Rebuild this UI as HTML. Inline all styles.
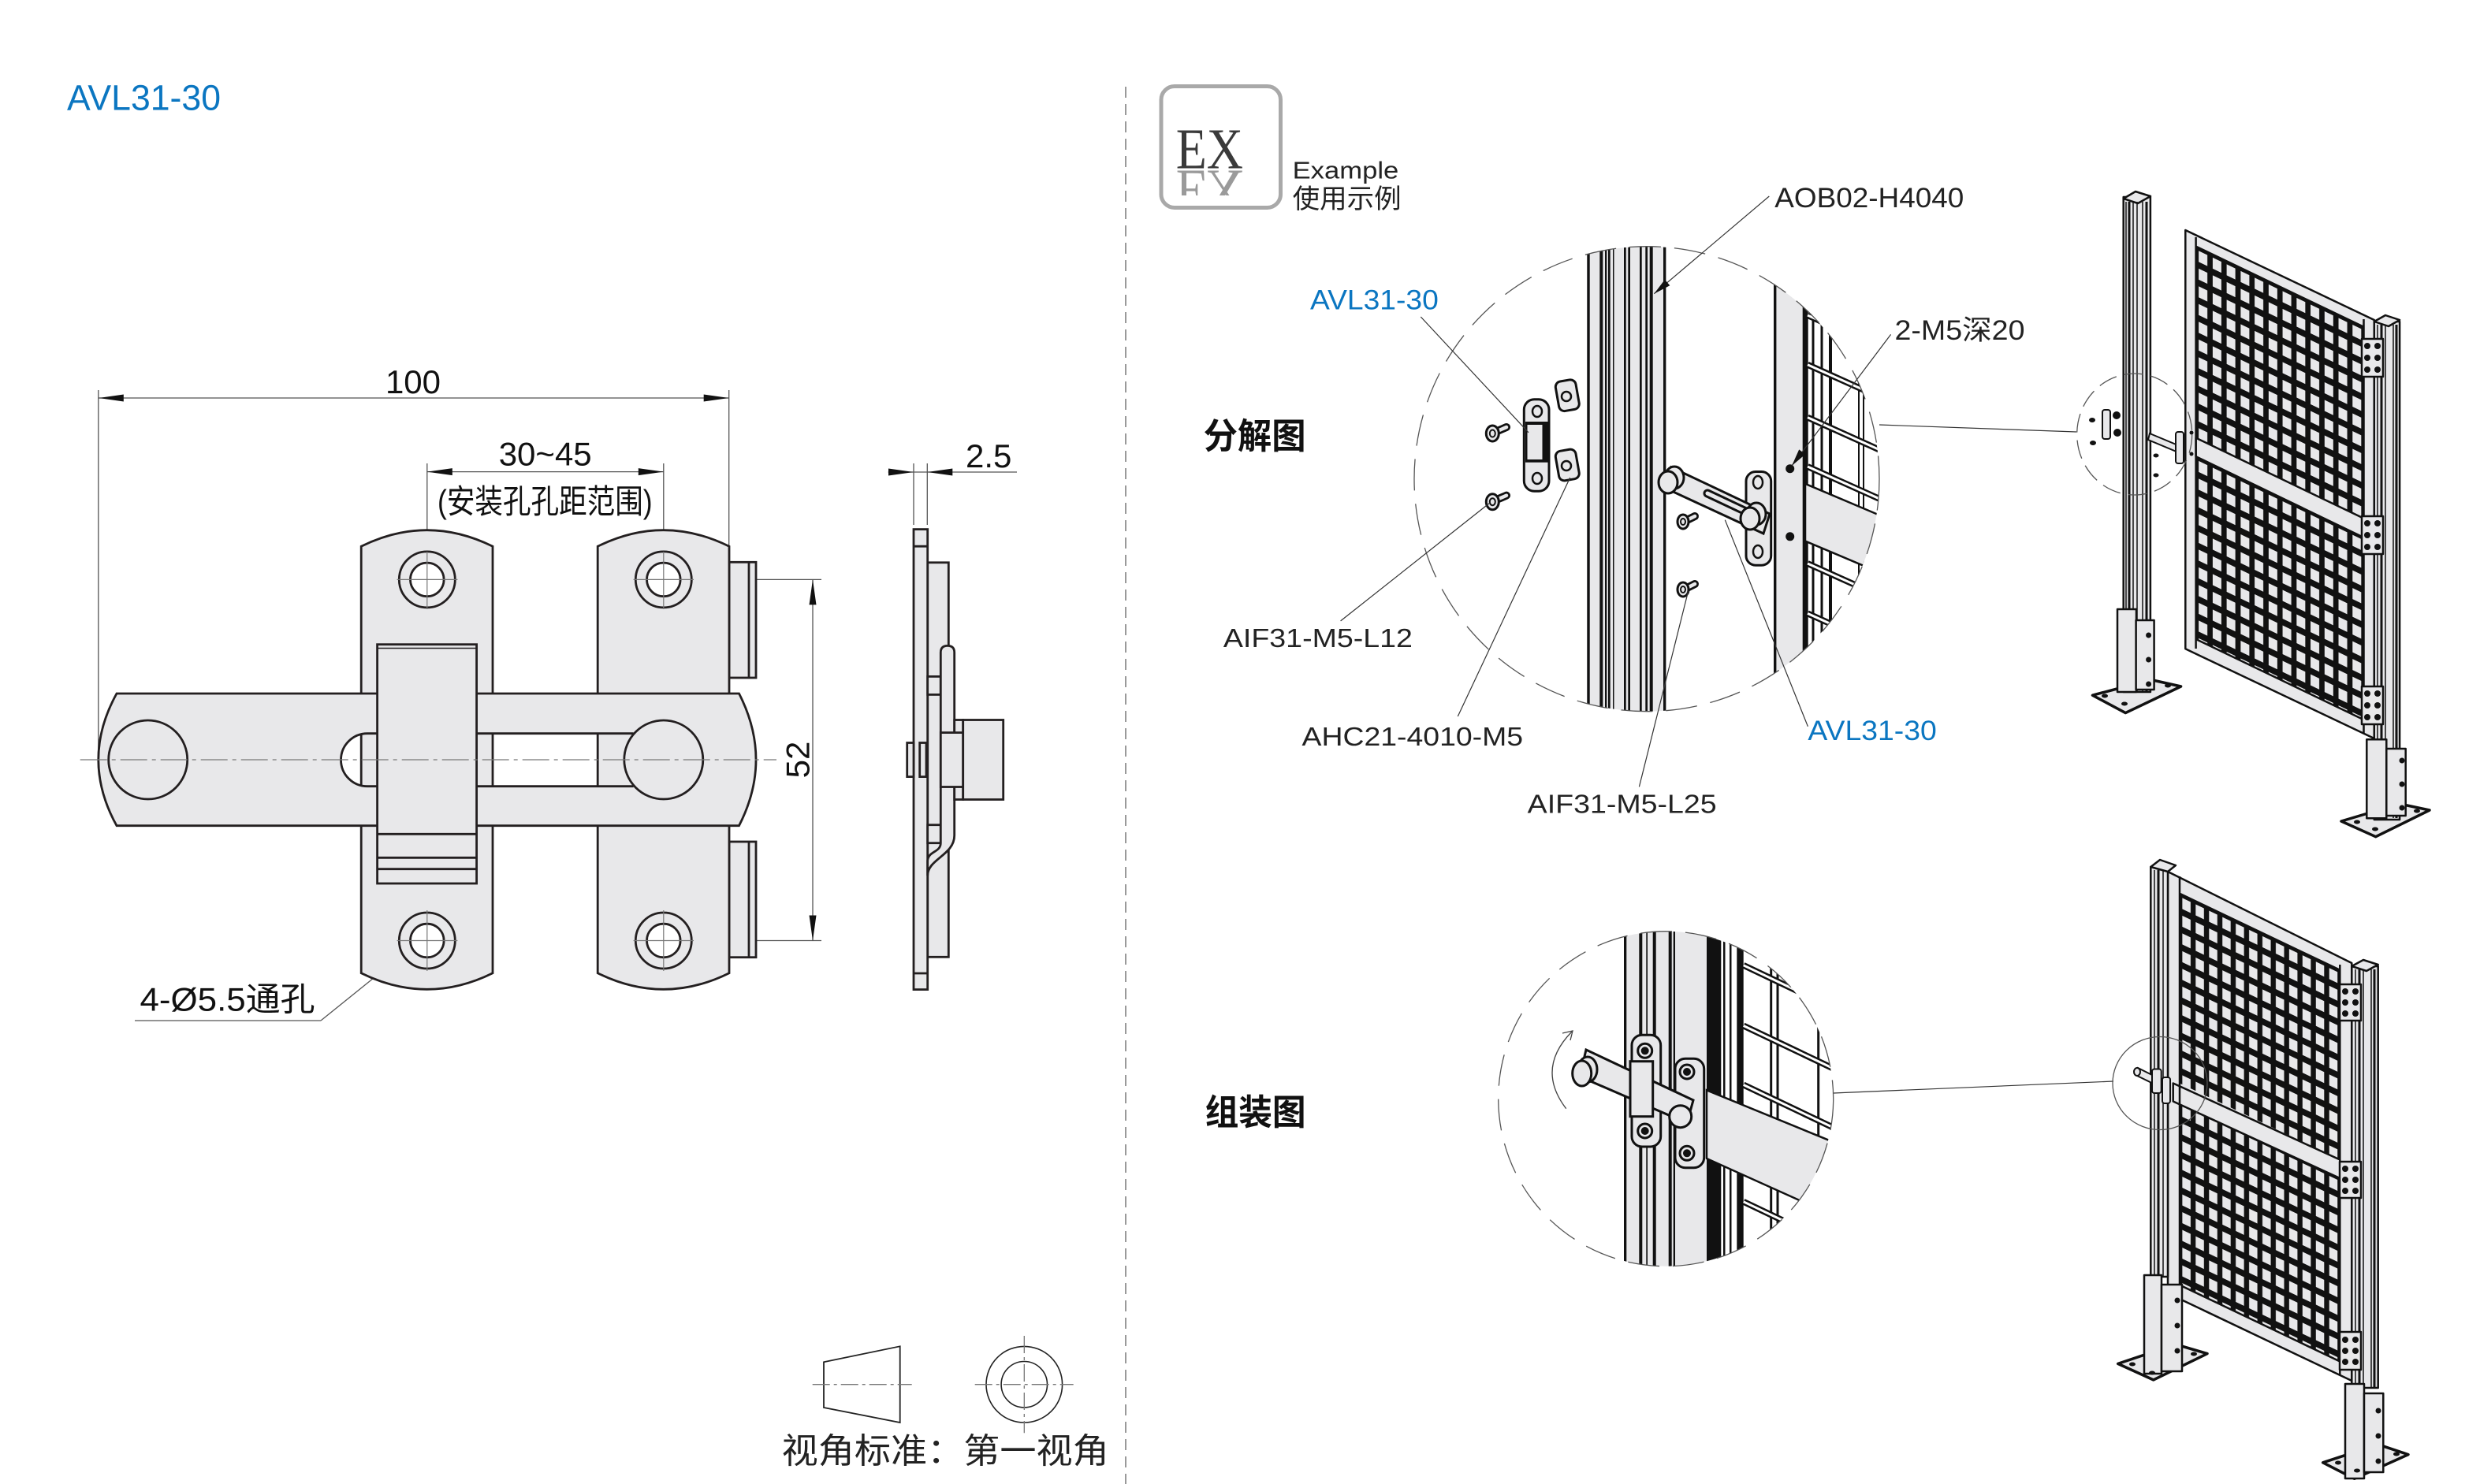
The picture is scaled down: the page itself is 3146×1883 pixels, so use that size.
<!DOCTYPE html>
<html><head><meta charset="utf-8">
<style>
html,body{margin:0;padding:0;background:#fff;}
svg{display:block;}
text{font-family:"Liberation Sans","Noto Sans CJK SC",sans-serif;}
</style></head><body>
<svg width="3146" height="1883" viewBox="0 0 3146 1883" xmlns="http://www.w3.org/2000/svg">
<defs>
<clipPath id="c1"><circle cx="2089" cy="607.7" r="295"/></clipPath>
<clipPath id="c2"><circle cx="2113.2" cy="1394.2" r="212.5"/></clipPath>
<clipPath id="refl"><rect x="1480" y="216" width="110" height="32"/></clipPath>
<linearGradient id="rg" x1="0" y1="216" x2="0" y2="248" gradientUnits="userSpaceOnUse">
<stop offset="0" stop-color="#9a9a9a"/><stop offset="1" stop-color="#ffffff"/></linearGradient>
<pattern id="mesh" width="1" height="22.5" patternUnits="userSpaceOnUse">
<rect width="1" height="22.5" fill="#111"/>
<rect x="0.2" y="4" width="0.62" height="14" fill="#e8e8ea"/>
</pattern>
</defs>

<!-- ============ LEFT: technical drawing ============ -->
<text x="85" y="139.3" font-size="45" fill="#0b76c1" textLength="195" lengthAdjust="spacingAndGlyphs">AVL31-30</text>

<!-- divider -->
<line x1="1428" y1="110" x2="1428" y2="1883" stroke="#9a9a9a" stroke-width="2" stroke-dasharray="14 8"/>

<!-- dimension / extension thin lines -->
<g stroke="#555" stroke-width="1.3" fill="none">
 <line x1="124.8" y1="495" x2="124.8" y2="958"/>
 <line x1="924.7" y1="495" x2="924.7" y2="693"/>
 <line x1="124.8" y1="505" x2="924.7" y2="505"/>
 <line x1="541.8" y1="588" x2="541.8" y2="700"/>
 <line x1="841.8" y1="588" x2="841.8" y2="700"/>
 <line x1="541.8" y1="598.6" x2="841.8" y2="598.6"/>
 <line x1="1031" y1="735.4" x2="1031" y2="1193.5"/>
 <line x1="880" y1="735.4" x2="1042" y2="735.4"/>
 <line x1="880" y1="1193.5" x2="1042" y2="1193.5"/>
 <line x1="1159" y1="588" x2="1159" y2="666"/>
 <line x1="1176.3" y1="588" x2="1176.3" y2="666"/>
 <line x1="1126.7" y1="599" x2="1290" y2="599"/>
 <line x1="171" y1="1295" x2="407" y2="1295"/>
 <line x1="407" y1="1295" x2="500" y2="1220"/>
</g>
<g fill="#111">
 <polygon points="124.8,505 156.8,500.5 156.8,509.5"/>
 <polygon points="924.7,505 892.7,500.5 892.7,509.5"/>
 <polygon points="541.8,598.6 573.8,594.1 573.8,603.1"/>
 <polygon points="841.8,598.6 809.8,594.1 809.8,603.1"/>
 <polygon points="1031,735.4 1026.5,767.4 1035.5,767.4"/>
 <polygon points="1031,1193.5 1026.5,1161.5 1035.5,1161.5"/>
 <polygon points="1159,599 1127,594.5 1127,603.5"/>
 <polygon points="1176.3,599 1208.3,594.5 1208.3,603.5"/>
 <polygon points="517.8,1206.3 500.3,1226 494.7,1219"/>
</g>
<g font-size="42" fill="#111">
 <text x="524" y="499" text-anchor="middle">100</text>
 <text x="691.7" y="590.3" text-anchor="middle">30~45</text>
 <text x="555" y="651" font-size="42" textLength="272.6" lengthAdjust="spacingAndGlyphs">(安装孔孔距范围)</text>
 <text x="1225" y="593">2.5</text>
 <text transform="translate(1026.5,964) rotate(-90)" text-anchor="middle">52</text>
 <text x="177.5" y="1282.5" textLength="222" lengthAdjust="spacingAndGlyphs">4-Ø5.5通孔</text>
</g>

<!-- front view -->
<g stroke="#231f20" stroke-width="2.8" fill="#e8e8ea">
 <rect x="925" y="713.3" width="34" height="146.7"/>
 <line x1="950" y1="713.3" x2="950" y2="860"/>
 <rect x="925" y="1068" width="34" height="146.7"/>
 <line x1="950" y1="1068" x2="950" y2="1214.7"/>
 <path d="M458.2,1234.7 V693.3 Q541.6,652.1 625,693.3 V1234.7 Q541.6,1275.9 458.2,1234.7 Z"/>
 <path d="M758.2,1234.7 V693.3 Q841.6,652.1 925,693.3 V1234.7 Q841.6,1275.9 758.2,1234.7 Z"/>
 <path d="M148,880 H937.5 Q980.5,964 937.5,1047.7 H148 Q101.6,964 148,880 Z"/>
 <path d="M466,930.7 A33.5,33.5 0 0 0 466,997.7 Z" fill="#fff" stroke="none"/>
 <rect x="458.2" y="930.7" width="21" height="67" stroke="none"/>
 <rect x="625" y="930.7" width="133.2" height="67" fill="#fff" stroke="none"/>
 <path d="M466,930.7 A33.5,33.5 0 0 0 466,997.7" fill="none"/>
 <path d="M466,930.7 H803.6 M466,997.7 H803.6 M458.2,930.7 V997.7 M625,930.7 V997.7 M758.2,930.7 V997.7" fill="none"/>
 <circle cx="187.7" cy="964" r="50"/>
 <circle cx="841.8" cy="964" r="50"/>
 <rect x="478.6" y="817.7" width="126" height="303.3"/>
 <path d="M478.6,1058.3 H604.6 M478.6,1088.3 H604.6 M478.6,1102.7 H604.6" fill="none"/>
 <line x1="478.6" y1="822.5" x2="604.6" y2="822.5" stroke-width="1.5"/>
 <circle cx="541.8" cy="735.4" r="35.5"/><circle cx="541.8" cy="735.4" r="21.3" fill="#fff"/>
 <circle cx="841.8" cy="735.4" r="35.5"/><circle cx="841.8" cy="735.4" r="21.3" fill="#fff"/>
 <circle cx="541.8" cy="1193.5" r="35.5"/><circle cx="541.8" cy="1193.5" r="21.3" fill="#fff"/>
 <circle cx="841.8" cy="1193.5" r="35.5"/><circle cx="841.8" cy="1193.5" r="21.3" fill="#fff"/>
</g>
<!-- center lines -->
<g stroke="#777" stroke-width="1.2" fill="none">
 <line x1="101.7" y1="964" x2="985" y2="964" stroke-dasharray="34 6 5 6"/>
 <path d="M503.6,735.4 H580.4 M541.8,700 V773 M803.6,735.4 H880 M841.8,700 V773 M503.6,1193.5 H580.4 M541.8,1155 V1232 M803.6,1193.5 H880 M841.8,1155 V1232"/>
</g>

<!-- side view -->
<g stroke="#231f20" stroke-width="2.8" fill="#e8e8ea">
 <rect x="1176.7" y="713.8" width="26.6" height="500.5"/>
 <rect x="1159" y="671.6" width="17.7" height="584"/>
 <line x1="1159" y1="693.2" x2="1176.7" y2="693.2"/>
 <line x1="1159" y1="1235" x2="1176.7" y2="1235"/>
 <rect x="1150.7" y="942.5" width="8.3" height="43.1"/>
 <rect x="1166.7" y="942.5" width="8.3" height="43.1"/>
 <rect x="1176.7" y="858.4" width="16.6" height="23"/>
 <rect x="1176.7" y="1046.7" width="16.6" height="23"/>
 <path d="M1193.3,1069.6 V828 Q1193.3,819.4 1202,819.4 Q1210.7,819.4 1210.7,828 V1060 C1210.7,1085 1176.7,1090 1176.7,1111 V1092.6 C1176.7,1080 1193.3,1082 1193.3,1069.6 Z"/>
 <rect x="1210.7" y="913.5" width="11" height="101"/>
 <rect x="1193.3" y="929.6" width="28.4" height="68.9"/>
 <rect x="1221.7" y="913.5" width="51" height="101"/>
</g>

<!-- view standard symbol -->
<polygon points="1045,1728.3 1141.7,1708.3 1141.7,1805 1045,1786" fill="none" stroke="#222" stroke-width="1.8"/>
<line x1="1030.7" y1="1756.7" x2="1156.7" y2="1756.7" stroke="#777" stroke-width="1.3" stroke-dasharray="22 5 4 5"/>
<circle cx="1299.3" cy="1756.7" r="48.3" fill="none" stroke="#222" stroke-width="1.6"/>
<circle cx="1299.3" cy="1756.7" r="29.2" fill="none" stroke="#222" stroke-width="1.6"/>
<line x1="1236.7" y1="1756.7" x2="1361.7" y2="1756.7" stroke="#777" stroke-width="1.3" stroke-dasharray="22 5 4 5"/>
<line x1="1299.3" y1="1695" x2="1299.3" y2="1818.3" stroke="#777" stroke-width="1.3" stroke-dasharray="22 5 4 5"/>
<text x="991.7" y="1856" font-size="44" fill="#222" textLength="415" lengthAdjust="spacingAndGlyphs">视角标准：第一视角</text>

<!-- ============ RIGHT: example ============ -->
<rect x="1473" y="109.5" width="151.5" height="154" rx="17" fill="#fff" stroke="#a9a9a9" stroke-width="5"/>
<text x="1491.7" y="213.3" font-size="73" fill="#3a3a3a" style="font-family:'Liberation Serif',serif" textLength="85.3" lengthAdjust="spacingAndGlyphs">EX</text>
<g clip-path="url(#refl)"><text x="1491.7" y="213.3" transform="translate(0,430) scale(1,-1)" font-size="73" fill="url(#rg)" style="font-family:'Liberation Serif',serif" textLength="85.3" lengthAdjust="spacingAndGlyphs">EX</text></g>
<text x="1639.6" y="226.7" font-size="31" fill="#222" textLength="134.7" lengthAdjust="spacingAndGlyphs">Example</text>
<text x="1639.6" y="264" font-size="34" fill="#222" textLength="138" lengthAdjust="spacingAndGlyphs">使用示例</text>

<text x="1526.6" y="569" font-size="45" font-weight="bold" fill="#111" textLength="130" lengthAdjust="spacingAndGlyphs">分解图</text>
<text x="1528.6" y="1427" font-size="45" font-weight="bold" fill="#111" textLength="128" lengthAdjust="spacingAndGlyphs">组装图</text>

<g font-size="35" fill="#222">
 <text x="2251.3" y="263" textLength="240" lengthAdjust="spacingAndGlyphs">AOB02-H4040</text>
 <text x="1662" y="392.5" fill="#0b76c1" textLength="162.8" lengthAdjust="spacingAndGlyphs">AVL31-30</text>
 <text x="2403.5" y="430.8" textLength="165" lengthAdjust="spacingAndGlyphs">2-M5深20</text>
 <text x="1551.9" y="821.1" font-size="33" textLength="240" lengthAdjust="spacingAndGlyphs">AIF31-M5-L12</text>
 <text x="1651.5" y="946" font-size="33" textLength="280.6" lengthAdjust="spacingAndGlyphs">AHC21-4010-M5</text>
 <text x="1937.7" y="1031.5" font-size="33" textLength="240" lengthAdjust="spacingAndGlyphs">AIF31-M5-L25</text>
 <text x="2293.4" y="939" fill="#0b76c1" textLength="163.4" lengthAdjust="spacingAndGlyphs">AVL31-30</text>
</g>

<!-- exploded circle -->
<g clip-path="url(#c1)">
 <rect x="2013" y="300" width="101" height="620" fill="#e8e8ea"/>
 <g fill="#111">
  <rect x="2013.3" y="300" width="3.4" height="620"/>
  <rect x="2029.3" y="300" width="4" height="620"/>
  <rect x="2036" y="300" width="2.3" height="620"/>
  <rect x="2040" y="300" width="2.7" height="620"/>
  <rect x="2046" y="300" width="1.5" height="620"/>
  <rect x="2060" y="300" width="2.7" height="620"/>
  <rect x="2065.3" y="300" width="2.7" height="620"/>
  <rect x="2080" y="300" width="2.7" height="620"/>
  <rect x="2087.3" y="300" width="2.7" height="620"/>
  <rect x="2092.7" y="300" width="4" height="620"/>
  <rect x="2110" y="300" width="3.3" height="620"/>
 </g>
 <rect x="2251" y="300" width="36" height="620" fill="#e8e8ea"/>
 <rect x="2250" y="300" width="3.4" height="620" fill="#111"/>
 <rect x="2286.7" y="300" width="7" height="620" fill="#111"/>
 <g stroke="#111" fill="none">
  <path d="M2300,300 V920 M2311,300 V920" stroke-width="3"/>
  <path d="M2322,300 V920" stroke-width="4"/>
  <path d="M2358,300 V920 M2364,300 V920" stroke-width="2"/>
 </g>
 <g stroke-linecap="butt">
  <path d="M2293,400 L2400,448 M2293,462.7 L2400,510.9 M2293,529.6 L2400,577.8 M2293,592 L2400,640 M2293,715 L2400,763 M2293,778.4 L2400,826.6 M2293,842 L2400,890" stroke="#111" stroke-width="8"/>
  <path d="M2293,400 L2400,448 M2293,462.7 L2400,510.9 M2293,529.6 L2400,577.8 M2293,592 L2400,640 M2293,715 L2400,763 M2293,778.4 L2400,826.6 M2293,842 L2400,890" stroke="#fff" stroke-width="3"/>
 </g>
 <polygon points="2290,613.8 2400,660.4 2400,733.1 2290,686.5" fill="#e8e8ea" stroke="#111" stroke-width="2.5"/>
</g>
<circle cx="2089" cy="607.7" r="295" fill="none" stroke="#555" stroke-width="1.3" stroke-dasharray="40 17"/>

<!-- exploded parts -->
<g stroke="#111" stroke-width="3" fill="#e8e8ea">
 <rect x="1933.3" y="506.7" width="31.7" height="116.6" rx="13"/>
 <rect x="1935" y="535" width="30" height="51.7" fill="#111" stroke="none"/>
 <rect x="1937.5" y="539" width="19" height="44" stroke="none"/>
 <ellipse cx="1950" cy="522" rx="6" ry="7" fill="none" stroke-width="2.5"/>
 <ellipse cx="1950" cy="607" rx="6" ry="7" fill="none" stroke-width="2.5"/>
 <rect x="1975.3" y="482.7" width="26" height="38" rx="7" transform="rotate(-10 1988.3 501.7)"/>
 <circle cx="1987" cy="503" r="6" fill="none" stroke-width="2.5"/>
 <rect x="1975.3" y="571" width="26" height="38" rx="7" transform="rotate(-10 1988.3 590)"/>
 <circle cx="1987" cy="591" r="6" fill="none" stroke-width="2.5"/>
 <line x1="1897" y1="548" x2="1911" y2="542" stroke-width="10" stroke-linecap="round"/>
 <line x1="1897" y1="548" x2="1911" y2="542" stroke="#e8e8ea" stroke-width="4.5" stroke-linecap="round"/>
 <ellipse cx="1893.3" cy="550" rx="8" ry="10"/><ellipse cx="1893.3" cy="550" rx="3.5" ry="4.5" fill="none" stroke-width="2"/>
 <line x1="1897" y1="634.7" x2="1911" y2="628.7" stroke-width="10" stroke-linecap="round"/>
 <line x1="1897" y1="634.7" x2="1911" y2="628.7" stroke="#e8e8ea" stroke-width="4.5" stroke-linecap="round"/>
 <ellipse cx="1893.3" cy="636.7" rx="8" ry="10"/><ellipse cx="1893.3" cy="636.7" rx="3.5" ry="4.5" fill="none" stroke-width="2"/>
 <line x1="2140" y1="660" x2="2150" y2="655" stroke-width="10" stroke-linecap="round"/>
 <line x1="2140" y1="660" x2="2150" y2="655" stroke="#e8e8ea" stroke-width="4.5" stroke-linecap="round"/>
 <ellipse cx="2135" cy="662" rx="7" ry="9"/><ellipse cx="2135" cy="662" rx="3" ry="4" fill="none" stroke-width="2"/>
 <line x1="2140" y1="746" x2="2150" y2="741" stroke-width="10" stroke-linecap="round"/>
 <line x1="2140" y1="746" x2="2150" y2="741" stroke="#e8e8ea" stroke-width="4.5" stroke-linecap="round"/>
 <ellipse cx="2135" cy="748" rx="7" ry="9"/><ellipse cx="2135" cy="748" rx="3" ry="4" fill="none" stroke-width="2"/>
 <rect x="2215" y="598.5" width="31.7" height="118.7" rx="12"/>
 <ellipse cx="2230" cy="612" rx="6" ry="8" fill="none" stroke-width="2.5"/>
 <ellipse cx="2230" cy="700" rx="6" ry="8" fill="none" stroke-width="2.5"/>
 <polygon points="2120,592.8 2245,652 2237,677 2113,619.6"/>
 <line x1="2166" y1="626" x2="2219" y2="651" stroke-width="11" stroke-linecap="round"/>
 <line x1="2166" y1="626" x2="2219" y2="651" stroke="#e8e8ea" stroke-width="5" stroke-linecap="round"/>
 <ellipse cx="2124" cy="606" rx="12" ry="14"/>
 <ellipse cx="2116" cy="612" rx="12" ry="14"/>
 <ellipse cx="2228" cy="652" rx="12" ry="14"/>
 <ellipse cx="2220" cy="658" rx="12" ry="14"/>
</g>
<circle cx="2270.7" cy="594.7" r="5.5" fill="#111"/>
<circle cx="2270.7" cy="680.8" r="5.5" fill="#111"/>

<!-- leaders -->
<g stroke="#333" stroke-width="1.2" fill="none">
 <line x1="1802.3" y1="402" x2="1939" y2="548.8"/>
 <line x1="1700.6" y1="787.9" x2="1890" y2="638"/>
 <line x1="1849.3" y1="909" x2="1991.7" y2="606"/>
 <line x1="2079.4" y1="998.4" x2="2141.7" y2="749.7"/>
 <line x1="2293.4" y1="921.8" x2="2188.3" y2="659.7"/>
 <line x1="2244.3" y1="249" x2="2098.3" y2="372.7"/>
 <line x1="2398.6" y1="424.4" x2="2273" y2="591"/>
 <line x1="2384" y1="539" x2="2634" y2="548"/>
 <line x1="2326" y1="1387" x2="2681" y2="1372"/>
</g>
<polygon points="2098.3,372.7 2118.3,362.3 2111.9,354.7" fill="#111"/>
<polygon points="2273,591 2290.2,576.4 2282.2,570.4" fill="#111"/>

<!-- assembled circle -->
<g clip-path="url(#c2)">
 <rect x="2060" y="1170" width="105" height="450" fill="#e8e8ea"/>
 <g fill="#111">
  <rect x="2060" y="1170" width="3.3" height="450"/>
  <rect x="2079.3" y="1170" width="4" height="450"/>
  <rect x="2088.3" y="1170" width="1.7" height="450"/>
  <rect x="2096.7" y="1170" width="4" height="450"/>
  <rect x="2116.7" y="1170" width="4" height="450"/>
  <rect x="2122.7" y="1170" width="2.3" height="450"/>
  <rect x="2165" y="1170" width="18.3" height="450"/>
  <rect x="2186" y="1170" width="2.5" height="450"/>
  <rect x="2194" y="1170" width="2.5" height="450"/>
  <rect x="2203.3" y="1170" width="8.4" height="450"/>
 </g>
 <g stroke="#111" fill="none">
  <path d="M2246.7,1170 V1620 M2255,1170 V1620 M2306.7,1170 V1620" stroke-width="3"/>
  <path d="M2211.7,1150 L2340,1211 M2211.7,1224.8 L2340,1285.9 M2211.7,1301.5 L2340,1362.6 M2211.7,1376.5 L2340,1437.6 M2211.7,1524.8 L2340,1585.9" stroke-width="8"/>
  <path d="M2211.7,1150 L2340,1211 M2211.7,1224.8 L2340,1285.9 M2211.7,1301.5 L2340,1362.6 M2211.7,1376.5 L2340,1437.6 M2211.7,1524.8 L2340,1585.9" stroke="#fff" stroke-width="3"/>
 </g>
 <polygon points="2165,1383.3 2340,1455 2340,1548.8 2165,1470" fill="#e8e8ea" stroke="#111" stroke-width="2.5"/>
</g>
<circle cx="2113.2" cy="1394.2" r="212.5" fill="none" stroke="#555" stroke-width="1.3" stroke-dasharray="40 17"/>
<g stroke="#111" stroke-width="3" fill="#e8e8ea">
 <rect x="2070" y="1313.3" width="36.7" height="141.7" rx="13"/>
 <circle cx="2086.7" cy="1333.3" r="9"/><circle cx="2086.7" cy="1333.3" r="3.5" fill="#111"/>
 <circle cx="2086.7" cy="1435" r="9"/><circle cx="2086.7" cy="1435" r="3.5" fill="#111"/>
 <rect x="2125" y="1343.3" width="36.7" height="138.4" rx="13"/>
 <circle cx="2140" cy="1360" r="9"/><circle cx="2140" cy="1360" r="3.5" fill="#111"/>
 <circle cx="2140" cy="1463.3" r="9"/><circle cx="2140" cy="1463.3" r="3.5" fill="#111"/>
 <polygon points="2012,1332 2148,1396 2140,1425 2004,1366"/>
 <rect x="2068" y="1346.7" width="28.7" height="70"/>
 <ellipse cx="2014" cy="1357" rx="12" ry="16"/>
 <ellipse cx="2006.7" cy="1362" rx="12" ry="16"/>
 <circle cx="2131.7" cy="1416.7" r="14"/>
</g>
<path d="M1986.7,1406.7 Q1948,1356 1994,1309" fill="none" stroke="#444" stroke-width="1.3"/>
<path d="M1982,1311 L1995,1308 L1992,1320" fill="none" stroke="#444" stroke-width="1.3"/>

<!-- ===== Fence 1 (top) ===== -->
<g stroke="#111" stroke-width="2.5" fill="#e8e8ea" stroke-linejoin="round">
 <polygon points="2654.5,882.2 2728.6,862.5 2766.6,871 2696.3,904.6" stroke-width="3.5"/>
 <rect x="2693.7" y="250" width="34.2" height="628"/>
 <polygon points="2693.7,252 2709,243 2728,249 2712,258"/>
 <path d="M2697,256 V878 M2706,256 V878 M2711,256 V878 M2718,256 V878" fill="none" stroke-width="1.5"/>
 <path d="M2701,256 V878 M2723,256 V878" fill="none" stroke-width="3"/>
 <rect x="2686" y="773" width="24" height="105"/>
 <rect x="2709.6" y="787" width="23" height="88"/>
 <polygon points="3013.7,1061.7 2970,1042 3044,1020 3082,1028" stroke-width="3.5"/>
 <polygon points="2772.3,292 3011.8,406 3011.8,937 2772.3,823.3"/>
</g>
<g transform="matrix(17.74,8.52,0,1,2785.6,312.6)"><rect width="12" height="243" fill="url(#mesh)"/></g>
<g transform="matrix(17.74,8.52,0,1,2785.6,579.2)"><rect width="12" height="232" fill="url(#mesh)"/></g>
<g stroke="#111" stroke-width="2.5" fill="#e8e8ea" stroke-linejoin="round">
 <polygon points="2785.6,555.6 2998.5,657.8 2998.5,682 2785.6,579.2"/>
 <path d="M2785.6,301 V823 M2998.5,405 V930 M2785.6,312.6 L2998.5,414.8 M2785.6,811 L2998.5,913.2" fill="none"/>
 <rect x="3011.8" y="408" width="32.3" height="632"/>
 <polygon points="3011.8,408 3026,400 3044.1,406 3030,414"/>
 <path d="M3016,412 V1038 M3026,412 V1038 M3036,412 V1038" fill="none" stroke-width="1.5"/>
 <path d="M3021,412 V1038 M3040,412 V1038" fill="none" stroke-width="3"/>
 <rect x="2996" y="430" width="27" height="48"/>
 <rect x="2996" y="655" width="27" height="48"/>
 <rect x="2996" y="871" width="27" height="48"/>
 <rect x="3002.3" y="938.3" width="25" height="100"/>
 <rect x="3027.3" y="950" width="24.4" height="85"/>
</g>
<g fill="#111">
 <circle cx="3003" cy="439" r="4"/><circle cx="3016" cy="439" r="4"/><circle cx="3003" cy="454" r="4"/><circle cx="3016" cy="454" r="4"/><circle cx="3003" cy="469" r="4"/><circle cx="3016" cy="469" r="4"/>
 <circle cx="3003" cy="664" r="4"/><circle cx="3016" cy="664" r="4"/><circle cx="3003" cy="679" r="4"/><circle cx="3016" cy="679" r="4"/><circle cx="3003" cy="694" r="4"/><circle cx="3016" cy="694" r="4"/>
 <circle cx="3003" cy="880" r="4"/><circle cx="3016" cy="880" r="4"/><circle cx="3003" cy="895" r="4"/><circle cx="3016" cy="895" r="4"/><circle cx="3003" cy="910" r="4"/><circle cx="3016" cy="910" r="4"/>
 <circle cx="2725.6" cy="806" r="3.5"/><circle cx="2725.6" cy="837" r="3.5"/><circle cx="2725.6" cy="868" r="3.5"/>
 <circle cx="3047" cy="965" r="3.5"/><circle cx="3047" cy="995" r="3.5"/><circle cx="3047" cy="1025" r="3.5"/>
 <ellipse cx="2670" cy="883" rx="4" ry="2.5"/><ellipse cx="2695" cy="893" rx="4" ry="2.5"/><ellipse cx="2750" cy="870" rx="4" ry="2.5"/>
 <ellipse cx="2990" cy="1043" rx="4" ry="2.5"/><ellipse cx="3013" cy="1052" rx="4" ry="2.5"/><ellipse cx="3066" cy="1029" rx="4" ry="2.5"/>
 <circle cx="2685" cy="527" r="5"/><circle cx="2686" cy="549" r="5"/>
 <ellipse cx="2654" cy="533" rx="4" ry="3"/><ellipse cx="2655" cy="562" rx="4" ry="3"/>
 <ellipse cx="2735" cy="578" rx="3.5" ry="2.5"/><ellipse cx="2735" cy="603" rx="3.5" ry="2.5"/>
 <circle cx="2780" cy="549" r="2.5"/><circle cx="2780" cy="576" r="2.5"/>
</g>
<g stroke="#111" stroke-width="2" fill="#e8e8ea">
 <rect x="2667" y="520" width="10" height="37" rx="3"/>
 <polygon points="2727,550 2770,568 2768,576 2725,558"/>
 <rect x="2760" y="548" width="10" height="40" rx="3"/>
</g>
<ellipse cx="2707.7" cy="551" rx="73" ry="77" fill="none" stroke="#555" stroke-width="1.3" stroke-dasharray="24 10"/>

<!-- ===== Fence 2 (bottom) ===== -->
<g stroke="#111" stroke-width="2.5" fill="#e8e8ea" stroke-linejoin="round">
 <polygon points="2686.7,1730.4 2760,1705.8 2800,1717.6 2731.7,1750.9" stroke-width="3.5"/>
 <polygon points="2946.7,1855.8 3016.7,1832.8 3055,1845.6 2986.7,1876.3" stroke-width="3.5"/>
 <polygon points="2750,1106 2983.3,1222 2983.3,1752 2750,1641"/>
</g>
<g transform="matrix(16.94,8.08,0,1,2765,1133.8)"><rect width="12" height="240.7" fill="url(#mesh)"/></g>
<g transform="matrix(16.94,8.08,0,1,2765,1397.5)"><rect width="12" height="233" fill="url(#mesh)"/></g>
<g stroke="#111" stroke-width="2.5" fill="#e8e8ea" stroke-linejoin="round">
 <polygon points="2756.7,1374.5 2968.3,1471.5 2968.3,1495 2756.7,1397.5"/>
 <path d="M2765,1112 V1640 M2968.3,1224 V1745 M2765,1133.8 L2968.3,1230.8 M2765,1630.5 L2968.3,1727.5" fill="none"/>
 <rect x="2728.3" y="1100" width="21.7" height="520"/>
 <polygon points="2728.3,1100 2740,1091 2760,1098 2750,1106"/>
 <path d="M2733,1104 V1620 M2744,1104 V1620" fill="none" stroke-width="1.5"/>
 <path d="M2738,1104 V1620" fill="none" stroke-width="3"/>
 <rect x="2983.3" y="1226" width="33.4" height="535"/>
 <polygon points="2983.3,1226 2998,1218 3016.7,1224 3002,1232"/>
 <path d="M2988,1230 V1760 M2998,1230 V1760 M3008,1230 V1760" fill="none" stroke-width="1.5"/>
 <path d="M2993,1230 V1760 M3012,1230 V1760" fill="none" stroke-width="3"/>
 <rect x="2968" y="1249" width="27" height="46"/>
 <rect x="2968" y="1474" width="27" height="46"/>
 <rect x="2968" y="1690" width="27" height="48"/>
 <rect x="2720" y="1618" width="22" height="125"/>
 <rect x="2742" y="1630" width="26" height="110"/>
 <rect x="2975" y="1756" width="24" height="120"/>
 <rect x="2999" y="1768" width="24.3" height="100"/>
</g>
<g fill="#111">
 <circle cx="2975" cy="1258" r="4"/><circle cx="2988" cy="1258" r="4"/><circle cx="2975" cy="1272" r="4"/><circle cx="2988" cy="1272" r="4"/><circle cx="2975" cy="1286" r="4"/><circle cx="2988" cy="1286" r="4"/>
 <circle cx="2975" cy="1483" r="4"/><circle cx="2988" cy="1483" r="4"/><circle cx="2975" cy="1497" r="4"/><circle cx="2988" cy="1497" r="4"/><circle cx="2975" cy="1511" r="4"/><circle cx="2988" cy="1511" r="4"/>
 <circle cx="2975" cy="1700" r="4"/><circle cx="2988" cy="1700" r="4"/><circle cx="2975" cy="1714" r="4"/><circle cx="2988" cy="1714" r="4"/><circle cx="2975" cy="1728" r="4"/><circle cx="2988" cy="1728" r="4"/>
 <circle cx="2762" cy="1650" r="3.5"/><circle cx="2762" cy="1682" r="3.5"/><circle cx="2762" cy="1714" r="3.5"/>
 <circle cx="3017" cy="1790" r="3.5"/><circle cx="3017" cy="1822" r="3.5"/><circle cx="3017" cy="1854" r="3.5"/>
 <ellipse cx="2705" cy="1731" rx="4" ry="2.5"/><ellipse cx="2730" cy="1742" rx="4" ry="2.5"/><ellipse cx="2783" cy="1718" rx="4" ry="2.5"/>
 <ellipse cx="2966" cy="1856" rx="4" ry="2.5"/><ellipse cx="2990" cy="1866" rx="4" ry="2.5"/><ellipse cx="3040" cy="1845" rx="4" ry="2.5"/>
</g>
<g stroke="#111" stroke-width="2" fill="#e8e8ea">
 <polygon points="2712,1355 2752,1375 2750,1384 2709,1364"/>
 <ellipse cx="2711" cy="1360" rx="4" ry="5"/>
 <rect x="2730" y="1356.5" width="11.7" height="30.5" rx="3"/>
 <rect x="2743" y="1367" width="10" height="33" rx="3"/>
</g>
<ellipse cx="2740" cy="1374.5" rx="60" ry="59" fill="none" stroke="#555" stroke-width="1.3"/>
</svg>
</body></html>
